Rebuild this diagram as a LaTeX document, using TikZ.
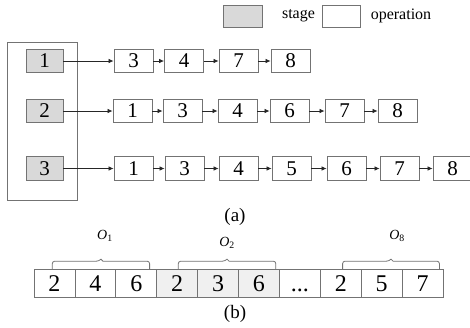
\documentclass[tikz,border=0pt]{standalone}
\usepackage{fontspec}
\setmainfont{Liberation Serif}
\newfontfamily\figfont{Liberation Serif}
\usetikzlibrary{arrows.meta,calc}

\definecolor{edge}{RGB}{115,115,115}
\definecolor{stagefill}{RGB}{217,217,217}
\definecolor{cellfill}{RGB}{240,240,240}

% dots sitting on the digit baseline
\newcommand\gapdots{\vphantom{2}...}

\tikzset{
  opbox/.style={draw=edge, line width=0.9pt, fill=white,
    minimum width=39pt, minimum height=23.5pt, inner sep=0pt,
    font=\figfont\fontsize{21}{21}\selectfont},
  stagebox/.style={opbox, fill=stagefill, minimum width=37pt},
  legendbox/.style={draw=edge, line width=0.9pt,
    minimum width=38.5pt, minimum height=22pt, inner sep=0pt},
  link/.style={draw=black!85, line width=0.7pt,
    -{Latex[length=5pt,width=4.5pt]}},
  cell/.style={draw=edge, line width=0.8pt,
    minimum width=40.9pt, minimum height=27.5pt, inner sep=0pt,
    font=\figfont\fontsize{24}{24}\selectfont},
  bracket/.style={draw=edge, line width=0.8pt},
  caption/.style={font=\figfont\fontsize{19}{19}\selectfont},
  grouplabel/.style={font=\figfont\fontsize{14}{14}\selectfont},
  legendtext/.style={font=\figfont\fontsize{16}{16}\selectfont}
}

% bracket over a group of cells, from point #1 to point #2
\newcommand\groupbracket[2]{%
  \path (#1) ++(0,-8) coordinate (bl) (#2) ++(0,-8) coordinate (br);
  \coordinate (bm) at ($(bl)!0.5!(br)$);
  \draw[bracket] (#1) [rounded corners=2.5pt] -- (bl) -- ([xshift=-2pt]bm)
    [sharp corners] -- ([yshift=2pt]bm) -- ([xshift=2pt]bm)
    [rounded corners=2.5pt] -- (br) -- (#2);
}

\begin{document}
\begin{tikzpicture}[x=1pt, y=-1pt]
  \clip (0,0) rectangle (470,327);
  \fill[white] (0,0) rectangle (470,327);

  % legend
  \node[legendbox, fill=stagefill] (lgs) at (243,16) {};
  \node[legendtext] (lgst) at (298.5,16) {stage};
  \node[legendbox, fill=white] (lgo) at (341.5,16) {};
  \node[legendtext] (lgot) at (401,16) {operation};

  % stage container and stages
  \node[draw=edge, line width=0.9pt, minimum width=69.5pt,
        minimum height=158.5pt, inner sep=0pt] (frame) at (42.25,121.5) {};
  \node[stagebox] (s1) at (44.5,61) {1};
  \node[stagebox] (s2) at (44.5,111) {2};
  \node[stagebox] (s3) at (44.5,168.5) {3};

  % operation sequence of stage 1
  \foreach \x/\t [count=\i] in {133.5/3,184/4,238.5/7,290.5/8}
    \node[opbox] (r1-\i) at (\x,61) {\t};
  \draw[link] (s1) -- (r1-1);
  \foreach \a/\b in {1/2,2/3,3/4}
    \draw[link] (r1-\a) -- (r1-\b);

  % operation sequence of stage 2
  \foreach \x/\t [count=\i] in {132.5/1,182.5/3,237.5/4,289.5/6,344.5/7,397.5/8}
    \node[opbox] (r2-\i) at (\x,111) {\t};
  \draw[link] (s2) -- (r2-1);
  \foreach \a/\b in {1/2,2/3,3/4,4/5,5/6}
    \draw[link] (r2-\a) -- (r2-\b);

  % operation sequence of stage 3
  \foreach \x/\t [count=\i] in {133.5/1,184.5/3,238.5/4,291.5/5,346.5/6,399.5/7,452.5/8}
    \node[opbox] (r3-\i) at (\x,168.5) {\t};
  \draw[link] (s3) -- (r3-1);
  \foreach \a/\b in {1/2,2/3,3/4,4/5,5/6,6/7}
    \draw[link] (r3-\a) -- (r3-\b);

  \node[caption] (capa) at (235,217) {(a)};

  % encoded chromosome: three groups of cells with a gap cell between
  \foreach \i in {4,5,6}
    \fill[cellfill] ({34+40.9*(\i-1)},269.5) rectangle ({34+40.9*\i},297);
  \foreach \t [count=\i] in {2,4,6,2,3,6,\gapdots,2,5,7}
    \node[cell] (c\i) at ({34+40.9*(\i-0.5)},283.3) {\t};

  \groupbracket{[xshift=18.7pt]c1.north west}{[xshift=-7.5pt]c3.north east}
  \groupbracket{[xshift=22pt]c4.north west}{[xshift=-4pt]c6.north east}
  \groupbracket{[xshift=22.7pt]c8.north west}{[xshift=-4pt]c10.north east}

  \node[grouplabel] (o1) at (105,236) {\textit{O}\textsubscript{1}};
  \node[grouplabel] (o2) at (227,243) {\textit{O}\textsubscript{2}};
  \node[grouplabel] (o8) at (397,236) {\textit{O}\textsubscript{8}};

  \node[caption] (capb) at (235,314) {(b)};
\end{tikzpicture}
\end{document}
